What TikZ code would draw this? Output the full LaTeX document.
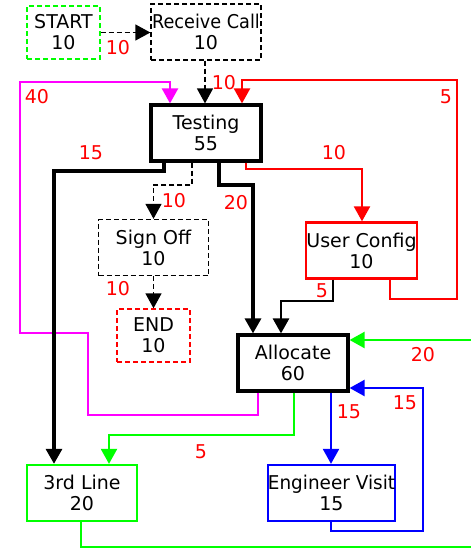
\documentclass[tikz,border=0pt]{standalone}
\usepackage{fontspec}
\setmainfont{DejaVu Sans}
\usetikzlibrary{arrows.meta}
\newcommand\dgfont{\fontsize{19}{21}\selectfont}
\definecolor{mag}{RGB}{255,0,255}
\definecolor{gr}{RGB}{0,255,0}
\definecolor{rd}{RGB}{255,0,0}
\definecolor{bl}{RGB}{0,0,255}
\begin{document}
\begin{tikzpicture}[x=1pt,y=-1pt,
  box/.style={draw, rectangle, inner sep=0pt, align=center, font=\dgfont, text=black,
              minimum width=110pt, minimum height=56pt},
  small/.style={minimum width=73pt, minimum height=53pt},
  dsh/.style={dash pattern=on 5pt off 3pt, line width=1.3pt},
  lbl/.style={text=rd, font=\dgfont, inner sep=0pt},
  tip/.style={-{Triangle[length=15pt,width=16pt]}},
  edge/.style={line width=2.3pt, tip},
  thk/.style={line width=3.2pt, tip}]
\useasboundingbox (0,0) rectangle (471,550);
% nodes
\node[box, small, dsh, draw=gr] (start) at (63.5,32.5) {START\\10};
\node[box, dsh, draw=black] (recv) at (206,32) {\scalebox{0.93}[1]{Receive Call}\\10};
\node[box, line width=3.2pt] (testing) at (206,133) {Testing\\55};
\node[box, line width=2.3pt, draw=rd] (uconf) at (361.5,250.5) {User Config\\10};
\node[box, dsh] (signoff) at (153.5,247.5) {Sign Off\\10};
\node[box, small, dsh, draw=rd] (end) at (153.5,335.5) {END\\10};
\node[box, line width=3.2pt] (alloc) at (293,363) {Allocate\\60};
\node[box, line width=2.3pt, draw=gr] (third) at (82,493) {3rd Line\\20};
\node[box, line width=2.3pt, draw=bl, minimum width=123pt] (eng) at (331.5,493) {\scalebox{0.97}[1]{Engineer Visit}\\15};
% edges
\draw[dsh, tip] (start.east) -- (start.east -| recv.west);
\draw[dsh, tip] (205,0 |- recv.south) -- (205,0 |- testing.north);
\draw[edge, mag] (258,0 |- alloc.south) -- (258,415) -- (88,415) -- (88,333) -- (20,333) -- (20,82) -- (170,82) -- (170,0 |- testing.north);
\draw[edge, rd] (390,0 |- uconf.south) -- (390,299) -- (457,299) -- (457,80) -- (242,80) -- (242,0 |- testing.north);
\draw[edge, rd] (246,0 |- testing.south) -- (246,169) -- (362,169) -- (362,0 |- uconf.north);
\draw[dsh, tip] (192,0 |- testing.south) -- (192,185) -- (153.5,185) -- (signoff.north);
\draw[dsh, tip] (signoff.south) -- (end.north);
\draw[thk] (164,0 |- testing.south) -- (164,171) -- (54,171) -- (54,0 |- third.north);
\draw[thk] (219,0 |- testing.south) -- (219,185) -- (253,185) -- (253,0 |- alloc.north);
\draw[line width=2.8pt, tip] (333,0 |- uconf.south) -- (333,301) -- (281,301) -- (281,0 |- alloc.north);
\draw[edge, gr] (81,0 |- third.south) -- (81,547) -- (480,547) -- (480,340) -- (alloc.east |- 0,340);
\draw[edge, gr] (294,0 |- alloc.south) -- (294,435) -- (109,435) -- (109,0 |- third.north);
\draw[edge, bl] (331,0 |- alloc.south) -- (331,0 |- eng.north);
\draw[edge, bl] (331,0 |- eng.south) -- (331,531) -- (423,531) -- (423,388) -- (alloc.east |- 0,388);
% labels
\node[lbl] (l1) at (118,48) {10};
\node[lbl] (l2) at (224,83) {10};
\node[lbl] (l3) at (37,97) {40};
\node[lbl] (l4) at (446,97) {5};
\node[lbl] (l5) at (334,153) {10};
\node[lbl] (l6) at (91,153) {15};
\node[lbl] (l7) at (174,201) {10};
\node[lbl] (l8) at (236,203) {20};
\node[lbl] (l9) at (118,289) {10};
\node[lbl] (l10) at (322,291) {5};
\node[lbl] (l11) at (423,355) {20};
\node[lbl] (l12) at (349,412) {15};
\node[lbl] (l13) at (405,403) {15};
\node[lbl] (l14) at (201,452) {5};
\end{tikzpicture}
\end{document}
